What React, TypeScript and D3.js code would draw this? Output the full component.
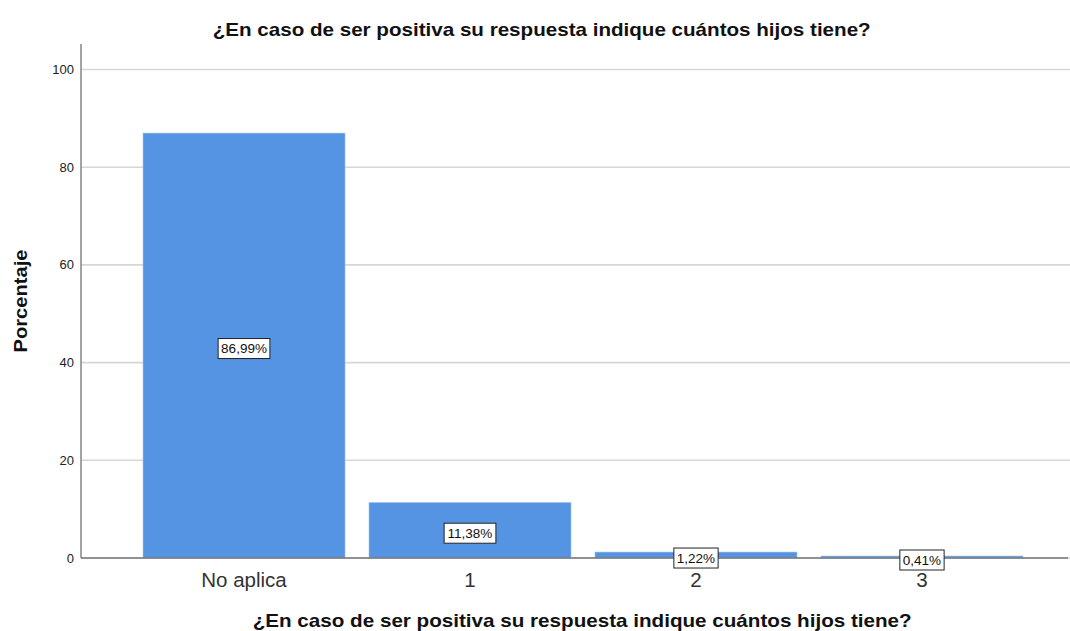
import React from "react";
import * as d3 from "d3";

const categories = ["No aplica", "1", "2", "3"];
const values = [86.99, 11.38, 1.22, 0.41];
const valueLabels = ["86,99%", "11,38%", "1,22%", "0,41%"];
const yTicks = [0, 20, 40, 60, 80, 100];
const title = "¿En caso de ser positiva su respuesta indique cuántos hijos tiene?";
const yTitle = "Porcentaje";

const W = 1070;
const H = 631;
const FONT = "Arial, 'Liberation Sans', Helvetica, sans-serif";

export default function App() {
  const y = d3.scaleLinear().domain([0, 100]).range([558, 69.5]);
  const x = d3
    .scaleBand<string>()
    .domain(categories)
    .range([143, 1023])
    .paddingInner(0.106)
    .paddingOuter(0);

  const charW = (s: string, fs: number) => {
    let w = 0;
    for (const c of s) {
      if (c === ",") w += fs * 0.278;
      else if (c === "%") w += fs * 0.889;
      else w += fs * 0.556;
    }
    return w;
  };

  return (
    <svg
      width={W}
      height={H}
      style={{ position: "absolute", left: 0, top: 0, background: "#fff" }}
      fontFamily={FONT}
    >
      <rect x={0} y={0} width={W} height={H} fill="#fff" />
      {/* grid */}
      {yTicks.map((t) => (
        <line
          key={"g" + t}
          x1={81}
          x2={1070}
          y1={y(t)}
          y2={y(t)}
          stroke="#d6d6d6"
          strokeWidth={1.6}
        />
      ))}
      {/* bars */}
      {categories.map((c, i) => (
        <rect
          key={"b" + c}
          x={x(c)}
          y={y(values[i])}
          width={x.bandwidth()}
          height={y(0) - y(values[i])}
          fill="#5494e2"
          stroke="#a9c8f0"
          strokeWidth={0.6}
        />
      ))}
      {/* axes */}
      <line x1={81} x2={81} y1={44} y2={558} stroke="#8c8c8c" strokeWidth={1.6} />
      <line x1={81} x2={1068} y1={558} y2={558} stroke="#777" strokeWidth={1.3} />
      {yTicks.map((t) => (
        <text
          key={"t" + t}
          x={74}
          y={y(t)}
          dy="0.35em"
          textAnchor="end"
          fontSize={13}
          fill="#222"
        >
          {t}
        </text>
      ))}
      {categories.map((c) => (
        <text
          key={"c" + c}
          x={(x(c) as number) + x.bandwidth() / 2}
          y={586.5}
          textAnchor="middle"
          fontSize={20.5}
          fill="#333"
        >
          {c}
        </text>
      ))}
      {/* value labels */}
      {categories.map((c, i) => {
        const cx = (x(c) as number) + x.bandwidth() / 2;
        const cy = (y(values[i]) + y(0)) / 2 + 3;
        const fs = 13.5;
        const w = charW(valueLabels[i], fs) + 6;
        const h = 20;
        return (
          <g key={"v" + c}>
            <rect
              x={cx - w / 2}
              y={cy - h / 2}
              width={w}
              height={h}
              fill="#fff"
              stroke="#222"
              strokeWidth={1}
            />
            <text x={cx} y={cy} dy="0.36em" textAnchor="middle" fontSize={fs} fill="#111">
              {valueLabels[i]}
            </text>
          </g>
        );
      })}
      {/* titles */}
      <text
        x={212.7}
        y={36}
        fontSize={18.5}
        fontWeight="bold"
        fill="#111"
        textLength={658}
        lengthAdjust="spacingAndGlyphs"
      >
        {title}
      </text>
      <text
        x={252.7}
        y={626.5}
        fontSize={18.5}
        fontWeight="bold"
        fill="#111"
        textLength={659}
        lengthAdjust="spacingAndGlyphs"
      >
        {title}
      </text>
      <text
        transform={`translate(27,301) rotate(-90)`}
        textAnchor="middle"
        fontSize={18.5}
        fontWeight="bold"
        fill="#111"
        textLength={103}
        lengthAdjust="spacingAndGlyphs"
      >
        {yTitle}
      </text>
    </svg>
  );
}
